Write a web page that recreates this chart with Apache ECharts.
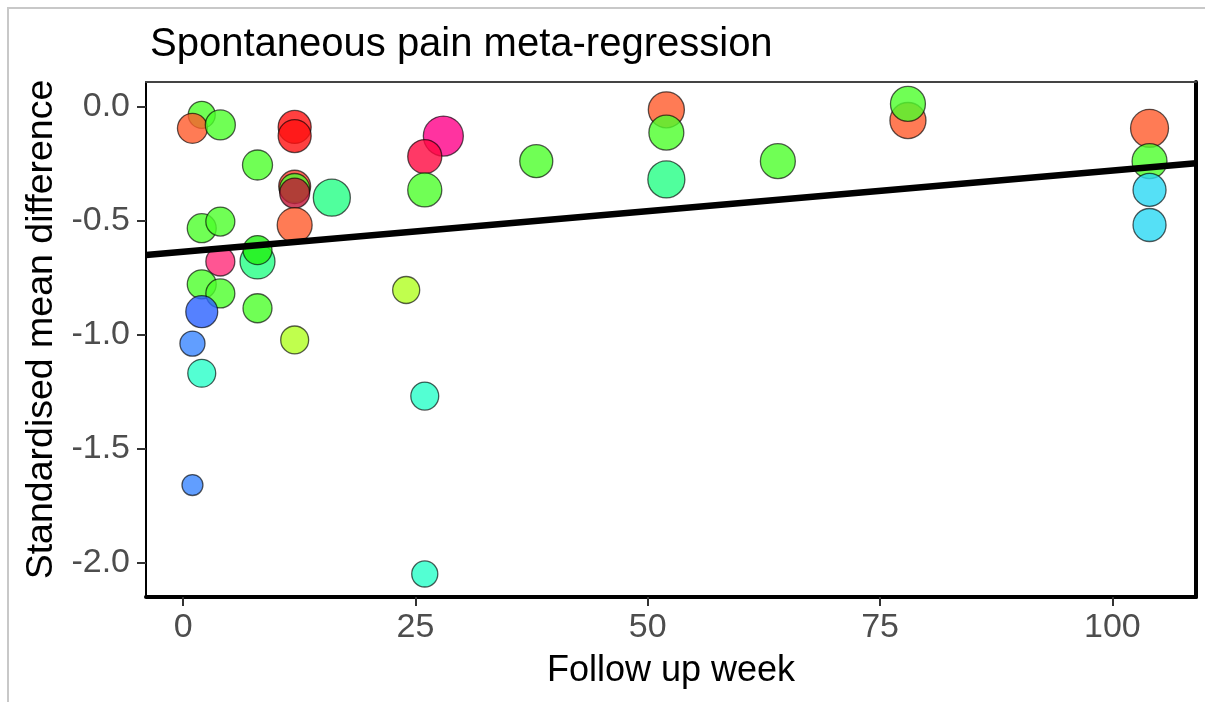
<!DOCTYPE html>
<html>
<head>
<meta charset="utf-8">
<script src="https://cdn.jsdelivr.net/npm/echarts@6/dist/echarts.min.js"></script>
<style>
  html, body { margin: 0; padding: 0; background: #ffffff; }
  #chart { width: 1205px; height: 702px; }
</style>
</head>
<body>
<div id="chart"></div>
<script>
// Follow-up week of each study arm
const weeks = [
  2, 1, 4, 12, 12, 8, 12, 12, 12, 12,
  16, 28, 26, 26, 38, 2, 4, 4, 8, 8,
  2, 4, 2, 8, 24, 12, 1, 2, 26, 1,
  26, 52, 52, 52, 64, 78, 78, 104, 104, 104,
  104
];
// Standardised mean difference of each arm
const smd = [
  -0.037, -0.096, -0.081, -0.09, -0.13, -0.257, -0.35, -0.36, -0.38, -0.52,
  -0.40, -0.13, -0.22, -0.366, -0.24, -0.534, -0.505, -0.68, -0.68, -0.63,
  -0.78, -0.82, -0.90, -0.885, -0.805, -1.024, -1.04, -1.17, -1.27, -1.66,
  -2.05, -0.015, -0.115, -0.32, -0.24, -0.062, 0.011, -0.096, -0.24, -0.366,
  -0.52
];
// Relative study weight (drives the marker area)
const weights = [
  7.3, 9.0, 9.0, 10.9, 10.9, 9.0, 10.2, 9.0, 9.0, 12.2,
  13.7, 16.0, 11.6, 11.6, 10.9, 8.4, 8.4, 8.4, 12.2, 8.4,
  8.4, 8.4, 10.2, 8.4, 7.3, 7.8, 6.3, 7.8, 7.8, 4.4,
  6.8, 13.0, 12.2, 13.7, 12.2, 13.0, 12.2, 14.4, 12.2, 10.9,
  10.9
];
// Subgroup of each arm
const groups = [
  'green', 'orange', 'green', 'red', 'red', 'green', 'vermilion', 'green', 'crimsonDark', 'orange',
  'spring', 'magenta', 'crimson', 'green', 'green', 'green', 'green', 'pink', 'spring', 'greenBright',
  'green', 'green', 'blue', 'green', 'lime', 'lime', 'sky', 'turquoise', 'turquoise', 'sky',
  'turquoise', 'orange', 'green', 'spring', 'green', 'orange', 'green', 'orange', 'green', 'cyan',
  'cyan'
];
const groupColours = {
  orange: '#ff5a2a',
  vermilion: '#ff4030',
  red: '#ff1010',
  crimson: '#ff0840',
  crimsonDark: '#c01538',
  magenta: '#ff0088',
  pink: '#ff2a78',
  green: '#4cff2a',
  greenBright: '#20f010',
  spring: '#24ff84',
  turquoise: '#28ffc8',
  cyan: '#2ad8f4',
  blue: '#2a62ff',
  sky: '#3a86ff',
  lime: '#b0ff20'
};

// Meta-regression fit: smd = intercept + slope * week
const intercept = -0.637;
const slope = 0.00356;

const xTicks = [0, 25, 50, 75, 100];
const yTicks = [0, -0.5, -1, -1.5, -2];
const xMin = -4.0, xMax = 109.0;
const yMin = -2.151, yMax = 0.107;

const points = weeks.map((w, i) => ({
  value: [w, smd[i]],
  symbolSize: 10 * Math.sqrt(weights[i]),
  itemStyle: { color: groupColours[groups[i]] }
}));

const fitLine = [xMin, xMax].map(x => [x, intercept + slope * x]);

const font = "'Liberation Sans', Arial, Helvetica, sans-serif";

const chart = echarts.init(document.getElementById('chart'), null, { renderer: 'canvas' });

chart.setOption({
  backgroundColor: '#ffffff',
  animation: false,
  title: {
    text: 'Spontaneous pain meta-regression',
    left: 145,
    top: 20,
    textStyle: { fontFamily: font, fontSize: 40, fontWeight: 'normal', color: '#000000' }
  },
  grid: { left: 146, top: 82, width: 1050, height: 515, containLabel: false },
  xAxis: [{
    type: 'value',
    min: xMin,
    max: xMax,
    name: 'Follow up week',
    nameLocation: 'middle',
    nameGap: 56,
    nameTextStyle: { fontFamily: font, fontSize: 36, color: '#000000' },
    axisLine: { show: true, onZero: false, lineStyle: { color: '#000000', width: 4 } },
    axisTick: { show: true, customValues: xTicks, length: 9, lineStyle: { color: '#333333', width: 2 } },
    axisLabel: {
      customValues: xTicks,
      margin: 14,
      fontFamily: font, fontSize: 34, color: '#4d4d4d',
      formatter: v => String(v)
    },
    splitLine: { show: false }
  }, {
    type: 'value',
    position: 'top',
    min: xMin,
    max: xMax,
    axisLine: { show: true, onZero: false, lineStyle: { color: '#444444', width: 2 } },
    axisTick: { show: false },
    axisLabel: { show: false },
    splitLine: { show: false }
  }],
  yAxis: [{
    type: 'value',
    min: yMin,
    max: yMax,
    name: 'Standardised mean difference',
    nameLocation: 'middle',
    nameGap: 83,
    nameTextStyle: { fontFamily: font, fontSize: 37.5, color: '#000000', padding: [0, 0, 0, 20] },
    axisLine: { show: true, onZero: false, lineStyle: { color: '#000000', width: 2 } },
    axisTick: { show: true, customValues: yTicks, length: 9, lineStyle: { color: '#333333', width: 2 } },
    axisLabel: {
      customValues: yTicks,
      margin: 16,
      fontFamily: font, fontSize: 34, color: '#4d4d4d',
      formatter: v => (Math.abs(v) < 1e-9 ? '0.0' : v.toFixed(1))
    },
    splitLine: { show: false }
  }, {
    type: 'value',
    position: 'right',
    min: yMin,
    max: yMax,
    axisLine: { show: true, onZero: false, lineStyle: { color: '#000000', width: 4 } },
    axisTick: { show: false },
    axisLabel: { show: false },
    splitLine: { show: false }
  }],
  graphic: [{
    type: 'polyline',
    shape: { points: [[8, 702], [8, 8], [1205, 8]] },
    style: { stroke: '#c8c8c8', lineWidth: 2, fill: null },
    silent: true
  }],
  series: [{
    type: 'scatter',
    xAxisIndex: 0,
    yAxisIndex: 0,
    data: points,
    itemStyle: { opacity: 0.8, borderColor: 'rgba(0,0,0,0.8)', borderWidth: 1.3 },
    z: 2
  }, {
    type: 'line',
    xAxisIndex: 0,
    yAxisIndex: 0,
    data: fitLine,
    showSymbol: false,
    symbol: 'none',
    lineStyle: { color: '#000000', width: 6.5 },
    z: 3
  }]
});
</script>
</body>
</html>
